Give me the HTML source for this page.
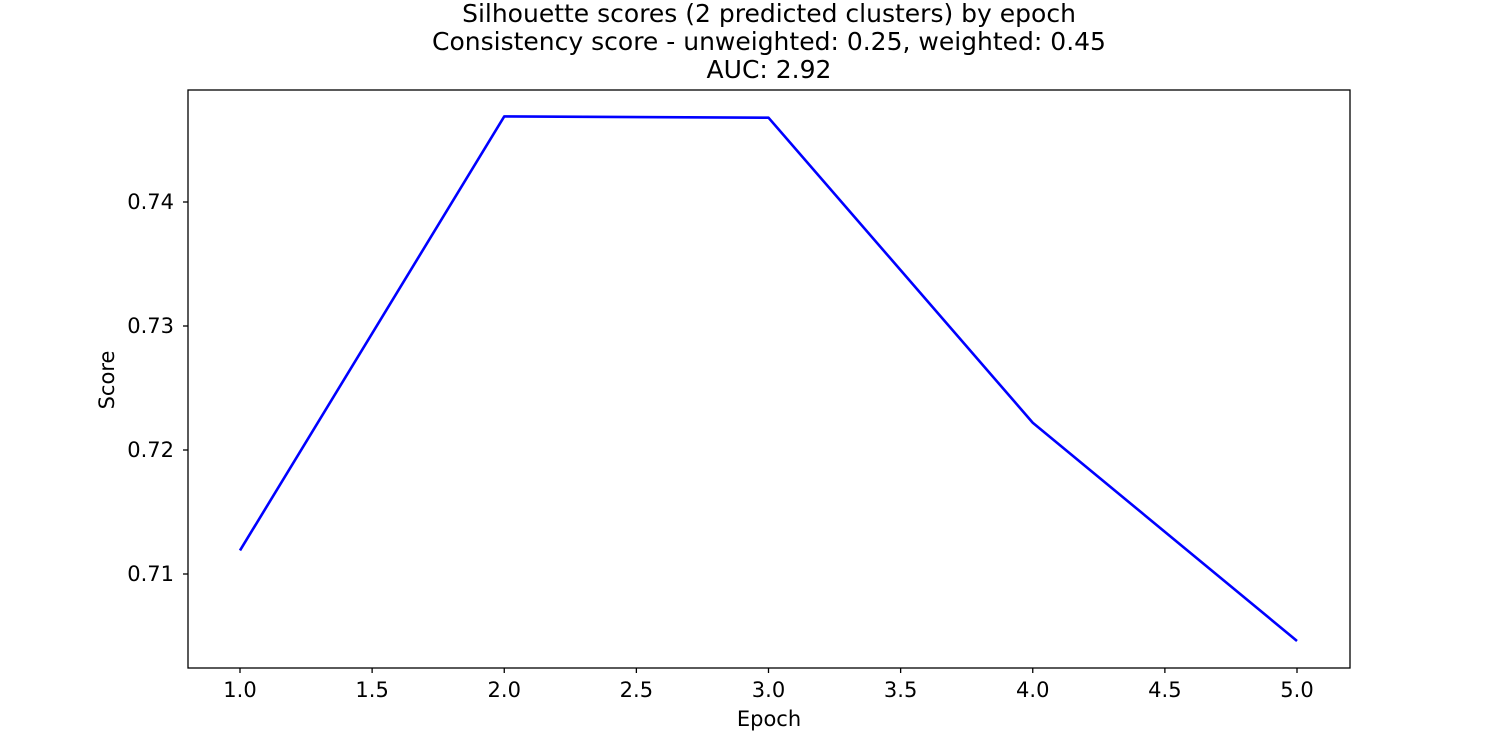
<!DOCTYPE html>
<html><head><meta charset="utf-8"><style>
html,body{margin:0;padding:0;background:#fff;}
svg{display:block;font-family:"DejaVu Sans","Liberation Sans",sans-serif;}
</style></head><body>
<svg id="chart" width="1500" height="750" viewBox="0 0 1500 750" xmlns="http://www.w3.org/2000/svg">
<rect width="1500" height="750" fill="#fff"/>
<g font-size="25" text-anchor="middle" fill="#000">
<text x="769" y="22">Silhouette scores (2 predicted clusters) by epoch</text>
<text x="769" y="50">Consistency score - unweighted: 0.25, weighted: 0.45</text>
<text x="769" y="78">AUC: 2.92</text>
</g>
<g id="xticks"></g>
<g id="yticks"></g>
<polyline id="line" fill="none" stroke="#0000ff" stroke-width="2.6" stroke-linejoin="round"/>
<rect x="188" y="90" width="1162" height="578" fill="none" stroke="#000" stroke-width="1.3"/>
<text x="769" y="726" font-size="21" text-anchor="middle">Epoch</text>
<text x="0" y="0" font-size="21" text-anchor="middle" transform="translate(114,380) rotate(-90)">Score</text>
</svg>
<script>
const epochs = [1, 2, 3, 4, 5];
const scores = [0.7119, 0.7469, 0.7468, 0.7222, 0.7046];
const xTickValues = [1.0, 1.5, 2.0, 2.5, 3.0, 3.5, 4.0, 4.5, 5.0];
const yTickValues = [0.71, 0.72, 0.73, 0.74];
const NS = "http://www.w3.org/2000/svg";
function xs(v){ return 240 + (v - 1) * 264.25; }
function ys(v){ return 202 + (0.74 - v) * 12400; }
const xg = document.getElementById('xticks');
xTickValues.forEach(v => {
  const l = document.createElementNS(NS,'line');
  
  
  l.setAttribute('x1',xs(v)); l.setAttribute('x2',xs(v));
  l.setAttribute('y1',668); l.setAttribute('y2',673);
  l.setAttribute('stroke','#000'); l.setAttribute('stroke-width','1.3');
  xg.appendChild(l);
  const t = document.createElementNS(NS,'text');
  
  
  t.setAttribute('x',xs(v)); t.setAttribute('y',697);
  t.setAttribute('font-size','21'); t.setAttribute('text-anchor','middle');
  t.textContent = v.toFixed(1);
  xg.appendChild(t);
});
const yg = document.getElementById('yticks');
yTickValues.forEach(v => {
  const l = document.createElementNS(NS,'line');
  
  
  l.setAttribute('x1',183); l.setAttribute('x2',188);
  l.setAttribute('y1',ys(v)); l.setAttribute('y2',ys(v));
  l.setAttribute('stroke','#000'); l.setAttribute('stroke-width','1.3');
  yg.appendChild(l);
  const t = document.createElementNS(NS,'text');
  
  
  t.setAttribute('x',174); t.setAttribute('y',ys(v)+7);
  t.setAttribute('font-size','21'); t.setAttribute('text-anchor','end');
  t.textContent = v.toFixed(2);
  yg.appendChild(t);
});
document.getElementById('line').setAttribute('points', epochs.map((e,i)=>xs(e)+','+ys(scores[i])).join(' '));
</script>
</body></html>
